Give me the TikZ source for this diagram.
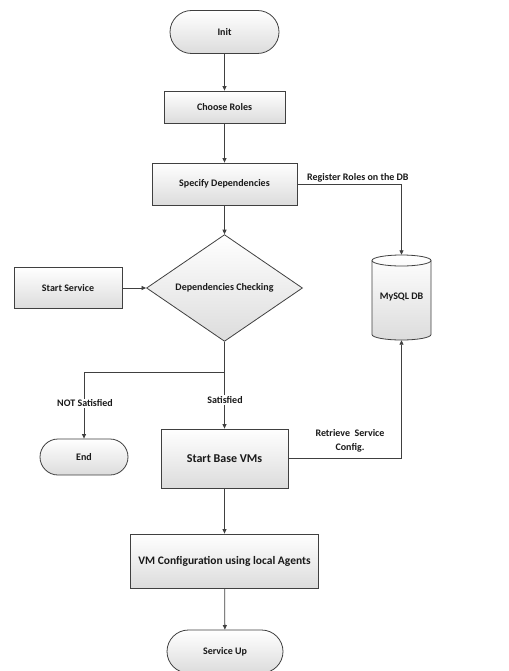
\documentclass[tikz,border=0pt]{standalone}
\usepackage{fontspec}
\setmainfont{Carlito}
\usetikzlibrary{shapes.geometric,shapes.misc,arrows.meta}
\definecolor{linec}{HTML}{404040}
\definecolor{boxg}{HTML}{DCDCDC}
\begin{document}
\begin{tikzpicture}[x=1pt,y=-1pt,
  shade/.style={top color=white,bottom color=boxg},
  box/.style={draw=linec,line width=0.8pt,shade,inner sep=0pt,
    font=\bfseries\fontsize{10}{12}\selectfont,text=black!90},
  term/.style={box,rounded rectangle},
  lbl/.style={font=\bfseries\fontsize{10}{12}\selectfont,text=black!90,inner sep=1pt,align=center},
  arr/.style={draw=linec,line width=0.8pt,-{Triangle[length=4.5pt,width=4pt]}},
  ln/.style={draw=linec,line width=0.8pt}]
\useasboundingbox (0,0) rectangle (508,671);
\clip (0,0) rectangle (508,671);
\fill[white] (0,0) rectangle (508,671);

\node[term,minimum width=109pt,minimum height=43pt] (init) at (224.5,32) {Init};
\node[box,minimum width=121pt,minimum height=32pt] (roles) at (224.5,107) {Choose Roles};
\node[box,minimum width=145pt,minimum height=42pt] (spec) at (224.5,184) {Specify Dependencies};
\node[box,diamond,minimum width=156pt,minimum height=102pt] (dia) at (224.5,288) {Dependencies Checking};
\node[box,minimum width=108pt,minimum height=41pt] (start) at (68,288) {Start Service};
\node[term,minimum width=88pt,minimum height=36pt] (end) at (84,457) {End};
\node[box,minimum width=127pt,minimum height=59pt,font=\bfseries\fontsize{12}{14}\selectfont] (vms) at (224.5,458.5) {Start Base VMs};
\node[box,minimum width=188pt,minimum height=54pt,font=\bfseries\fontsize{11.5}{14}\selectfont] (vmc) at (224.5,561) {VM Configuration using local Agents};
\node[term,minimum width=116pt,minimum height=43pt] (up) at (225,651.5) {Service Up};

% database cylinder
\path[shade] (372,260.5) -- (372,334.5)
  arc[start angle=180,end angle=360,x radius=29.5pt,y radius=5.5pt]
  -- (431,260.5)
  arc[start angle=0,end angle=180,x radius=29.5pt,y radius=5.5pt] -- cycle;
\draw[ln] (372,260.5) -- (372,334.5)
  arc[start angle=180,end angle=360,x radius=29.5pt,y radius=5.5pt]
  -- (431,260.5)
  arc[start angle=0,end angle=180,x radius=29.5pt,y radius=5.5pt];
\draw[ln] (372,260.5) arc[start angle=180,end angle=360,x radius=29.5pt,y radius=5.5pt];
\node[minimum width=59pt,minimum height=85pt,inner sep=0pt,font=\bfseries\fontsize{10}{12}\selectfont,text=black!90] (db) at (401.5,297.5) {MySQL DB};

\coordinate (br) at (224.5,372);

\draw[arr] (init) -- (roles);
\draw[arr] (roles) -- (spec);
\draw[arr] (spec) -- (dia);
\draw[arr] (spec.east) -| (db.north);
\draw[arr] (start) -- (dia);
\draw[ln] (dia.south) -- (br);
\draw[arr] (br) -- (vms.north);
\draw[arr] (br) -| (end.north);
\draw[arr] (vms.east) -| (db.south);
\draw[arr] (vms) -- (vmc);
\draw[arr] (vmc) -- (up);

\node[lbl,anchor=west] (lreg) at (306,178) {Register Roles on the DB};
\node[lbl,fill=white] (lsat) at (225,400) {Satisfied};
\node[lbl,fill=white] (lnot) at (85,403.5) {NOT Satisfied};
\node[lbl,font=\bfseries\fontsize{10}{14}\selectfont] (lret) at (350,441) {Retrieve\ \ Service\\Config.};
\end{tikzpicture}
\end{document}
